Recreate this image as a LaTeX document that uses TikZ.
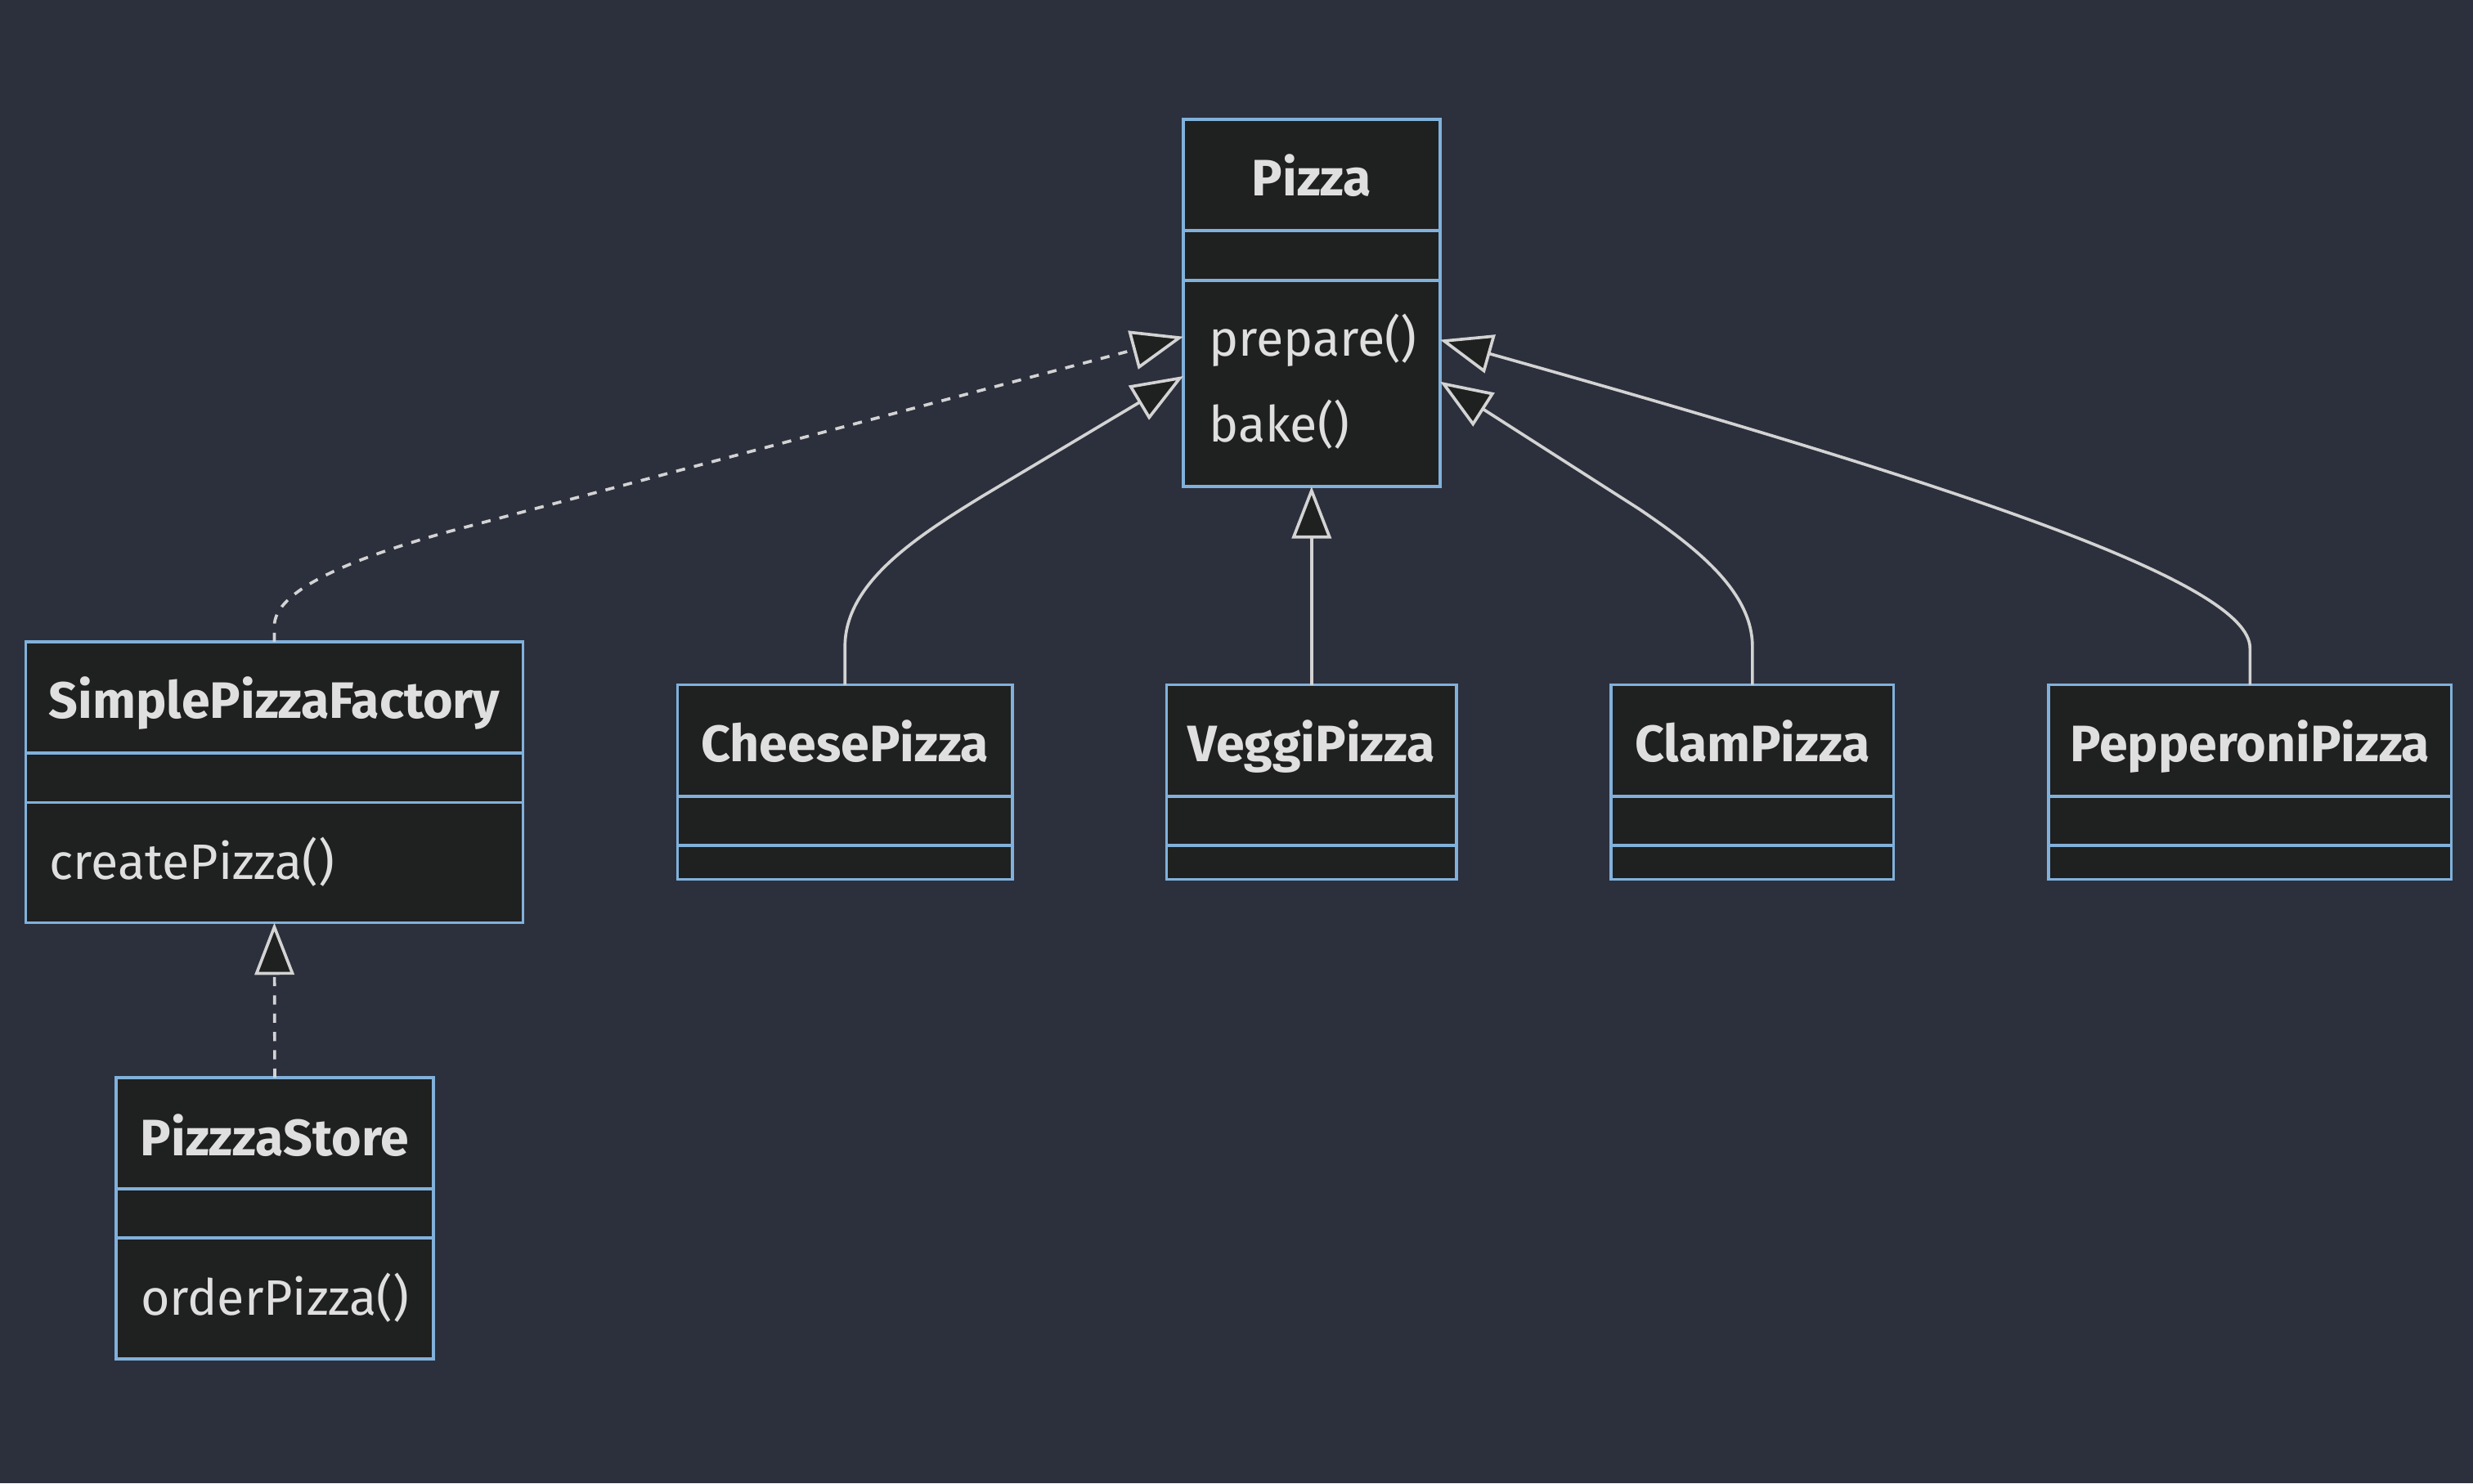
\documentclass[tikz,border=0pt]{standalone}
\usepackage{fontspec}
\setmainfont{Fira Sans}
\usetikzlibrary{arrows.meta,calc}
\definecolor{bgc}{HTML}{2C303D}
\definecolor{boxfill}{HTML}{1F2020}
\definecolor{boxborder}{HTML}{81B1DB}
\definecolor{linec}{HTML}{D3D3D3}
\definecolor{txtc}{HTML}{E0DFDF}
\tikzset{
  classbox/.style={draw=boxborder, fill=boxfill, line width=1.8pt, rectangle, inner sep=0pt, outer sep=0pt},
  sepline/.style={draw=boxborder, line width=1.8pt},
  titletext/.style={text=txtc, font=\fontsize{32.5}{38}\selectfont\bfseries, inner sep=0pt, anchor=base},
  methtext/.style={text=txtc, font=\fontsize{31.6}{37}\selectfont, inner sep=0pt, anchor=base west},
  edge/.style={draw=linec, line width=1.9pt, -{Triangle[length=33pt, width=25pt, fill=boxfill]}},
  dashededge/.style={edge, dash pattern=on 5.8pt off 5.8pt}
}
\newcommand\umlbox[7]{%
  \node[classbox, minimum width={#4-#2}, minimum height={#5-#3}] (#1) at ({(#2+#4)/2},{(#3+#5)/2}) {};
  \draw[sepline] (#2,#6) -- (#4,#6);
  \draw[sepline] (#2,#7) -- (#4,#7);
}
\begin{document}
\begin{tikzpicture}[x=1pt,y=-1pt]
\fill[bgc] (0,0) rectangle (1568,940.6);
\useasboundingbox (0,0) rectangle (1568,940.6);

% boxes
\umlbox{pizza}{750.3}{75.7}{913.1}{308.5}{146.2}{177.9}
\umlbox{spf}{16.2}{407}{331.7}{585.2}{477.5}{509}
\umlbox{store}{73.6}{683.4}{274.8}{861.8}{754}{785}
\umlbox{cheese}{429.5}{434.3}{642}{557.7}{505}{536.2}
\umlbox{veggi}{739.7}{434.3}{923.5}{557.7}{505}{536.2}
\umlbox{clam}{1021.5}{434.3}{1200.7}{557.7}{505}{536.2}
\umlbox{pepperoni}{1298.9}{434.3}{1554.3}{557.7}{505}{536.2}

% texts
\node[titletext] (pizzaT) at (831.7,124.4) {Pizza};
\node[methtext] (pizzaM1) at (766.4,226) {prepare()};
\node[methtext] (pizzaM2) at (766.4,280.5) {bake()};
\node[titletext] (spfT) at (174,455.3) {SimplePizzaFactory};
\node[methtext] (spfM1) at (31.3,557.4) {createPizza()};
\node[titletext] (storeT) at (174.2,732.8) {PizzzaStore};
\node[methtext] (storeM1) at (89,834) {orderPizza()};
\node[titletext] (cheeseT) at (535.75,483.1) {CheesePizza};
\node[titletext] (veggiT) at (831.6,483.1) {VeggiPizza};
\node[titletext] (clamT) at (1111.1,483.1) {ClamPizza};
\node[titletext] (pepperoniT) at (1426.6,483.1) {PepperoniPizza};

% connectors
\draw[dashededge] (spf.north) -- ++(0,-10) .. controls +(0,-22) and +(-65,18) .. ++(111,-60) -- ([yshift=-21.4pt]pizza.west);
\draw[edge] (cheese.north) -- ++(0,-24.3) .. controls +(0,-40) and +(-43,26.4) .. ++(87.25,-95.4) -- ([yshift=-46.4pt]pizza.west);
\draw[edge] (veggi.north) -- (veggi.north |- pizza.south);
\draw[edge] (clam.north) -- ++(0,-24.3) .. controls +(0,-35) and +(35.4,24) .. ++(-71.5,-87) -- ([yshift=-49.9pt]pizza.east);
\draw[edge] (pepperoni.north) -- ++(0,-23.3) .. controls +(0,-41) and +(336,94.5) .. ([yshift=-23.4pt]pizza.east);
\draw[dashededge] (store.north) -- (spf.south);
\end{tikzpicture}
\end{document}
